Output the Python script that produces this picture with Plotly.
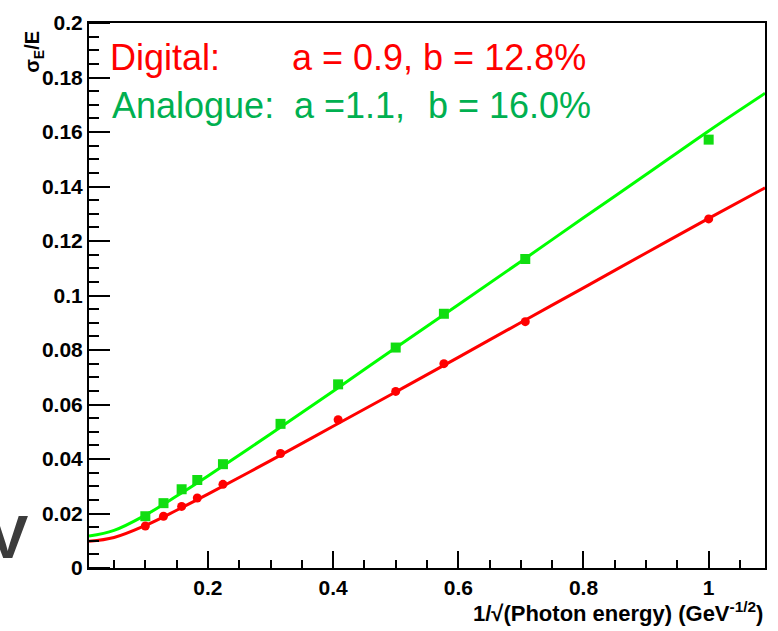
import plotly.graph_objects as go

# ---- data ----
x_points = [0.100, 0.129, 0.158, 0.183, 0.224, 0.316, 0.408, 0.500, 0.577, 0.707, 1.000]
digital_points = [0.0154, 0.0190, 0.0226, 0.0257, 0.0307, 0.0420, 0.0544, 0.0648, 0.0750, 0.0904, 0.1281]
analogue_points = [0.0190, 0.0238, 0.0289, 0.0323, 0.0381, 0.0529, 0.0674, 0.0809, 0.0933, 0.1134, 0.1572]

x_curve = [0.01, 0.05, 0.10, 0.15, 0.20, 0.30, 0.40, 0.50, 0.60, 0.70, 0.80, 0.90, 1.00, 1.09]
digital_curve = [0.0098, 0.0112, 0.0156, 0.0212, 0.0271, 0.0394, 0.0520, 0.0646, 0.0773, 0.0901, 0.1028, 0.1156, 0.1283, 0.1395]
analogue_curve = [0.0117, 0.0138, 0.0194, 0.0264, 0.0338, 0.0492, 0.0649, 0.0808, 0.0966, 0.1125, 0.1285, 0.1444, 0.1604, 0.1742]

x_range = [0.01, 1.09]
y_range = [0, 0.2]

W, H = 778, 631
L, R, T, B = 89, 11, 18, 62.5
PW, PH = W - L - R, H - T - B


def px(xp):
    return (xp - L) / PW


def py(yp):
    return (H - B - yp) / PH


RED = "#ff0000"
GREEN_LINE = "#00ff00"
GREEN_TEXT = "#00b050"

fig = go.Figure()
fig.add_trace(go.Scatter(x=x_curve, y=analogue_curve, mode="lines", line=dict(color=GREEN_LINE, width=3, shape="spline"), showlegend=False, hoverinfo="skip"))
fig.add_trace(go.Scatter(x=x_curve, y=digital_curve, mode="lines", line=dict(color=RED, width=3, shape="spline"), showlegend=False, hoverinfo="skip"))
fig.add_trace(go.Scatter(x=x_points, y=analogue_points, mode="markers", marker=dict(symbol="square", size=10, color="#11dd11"), showlegend=False, name="Analogue"))
fig.add_trace(go.Scatter(x=x_points, y=digital_points, mode="markers", marker=dict(symbol="circle", size=9, color=RED), showlegend=False, name="Digital"))
# empty helper traces so that the tick-only overlay axes are created
for xa, ya in [("x2", "y"), ("x3", "y"), ("x", "y2"), ("x", "y3")]:
    fig.add_trace(go.Scatter(x=[], y=[], xaxis=xa, yaxis=ya, showlegend=False, hoverinfo="skip"))

tickfont = dict(family="Liberation Sans, Arial, sans-serif", size=21, color="black", weight="bold")
fig.update_layout(
    xaxis=dict(range=x_range, tick0=0, dtick=0.2, ticks="inside", ticklen=17, tickwidth=2, tickcolor="black",
               showline=True, linecolor="black", linewidth=2, mirror=True, showgrid=False, zeroline=False,
               tickfont=tickfont, layer="above traces",
               minor=dict(ticks="inside", ticklen=8, dtick=0.05, tick0=0, tickwidth=2, tickcolor="black")),
    yaxis=dict(range=y_range, tick0=0, dtick=0.02, ticks="inside", ticklen=21, tickwidth=2, tickcolor="black",
               showline=True, linecolor="black", linewidth=2, mirror=True, showgrid=False, zeroline=False,
               tickfont=tickfont, layer="above traces",
               minor=dict(ticks="inside", ticklen=10, dtick=0.005, tick0=0, tickwidth=2, tickcolor="black")),
)
# backup tick marks pointing into the plot (outward ticks of overlay axes sitting just inside the frame)
tick_axis = dict(showline=False, showgrid=False, zeroline=False, showticklabels=False, ticks="outside",
                 tickcolor="black", tickwidth=2, tick0=0, anchor="free", fixedrange=True, layer="above traces")
fig.update_layout(
    xaxis2=dict(tick_axis, range=x_range, overlaying="x", side="bottom", position=17 / PH, ticklen=17, dtick=0.2),
    xaxis3=dict(tick_axis, range=x_range, overlaying="x", side="bottom", position=8 / PH, ticklen=8, dtick=0.05),
    yaxis2=dict(tick_axis, range=y_range, overlaying="y", side="left", position=21 / PW, ticklen=21, dtick=0.02),
    yaxis3=dict(tick_axis, range=y_range, overlaying="y", side="left", position=10 / PW, ticklen=10, dtick=0.005),
)

sans = "Liberation Sans, Arial, sans-serif"
ann = []


def text(xp, yp, s, size, color, family=sans, xanchor="left", angle=0):
    ann.append(dict(x=px(xp), y=py(yp), xref="paper", yref="paper", text=s, showarrow=False,
                    xanchor=xanchor, yanchor="middle", textangle=angle,
                    font=dict(family=family, size=size, color=color)))


fs = 36
text(108, 65 - 0.346 * fs, "Digital:", fs, RED)
text(291, 65 - 0.346 * fs, "a = 0.9, b = 12.8%", fs, RED)
text(110, 114 - 0.346 * fs, "Analogue:", fs, GREEN_TEXT)
text(293, 114 - 0.346 * fs, "a =1.1,", fs, GREEN_TEXT)
text(427, 114 - 0.346 * fs, "b = 16.0%", fs, GREEN_TEXT)

text(767, 613, "<b>1/√(Photon energy) (GeV<sup>-1/2</sup>)</b>", 22, "black", xanchor="right")
text(34, 47, "<b>σ<sub>E</sub>/E</b>", 20, "black", xanchor="center", angle=-90)
text(30, 537, "<b>V</b>", 62, "#3c3c3c", xanchor="right")

fig.update_layout(width=W, height=H, margin=dict(l=L, r=R, t=T, b=B), paper_bgcolor="white",
                  plot_bgcolor="rgba(0,0,0,0)", annotations=ann, showlegend=False)
fig.write_html("out.html", config={"displayModeBar": False}, post_script="document.body.style.margin='0';")
